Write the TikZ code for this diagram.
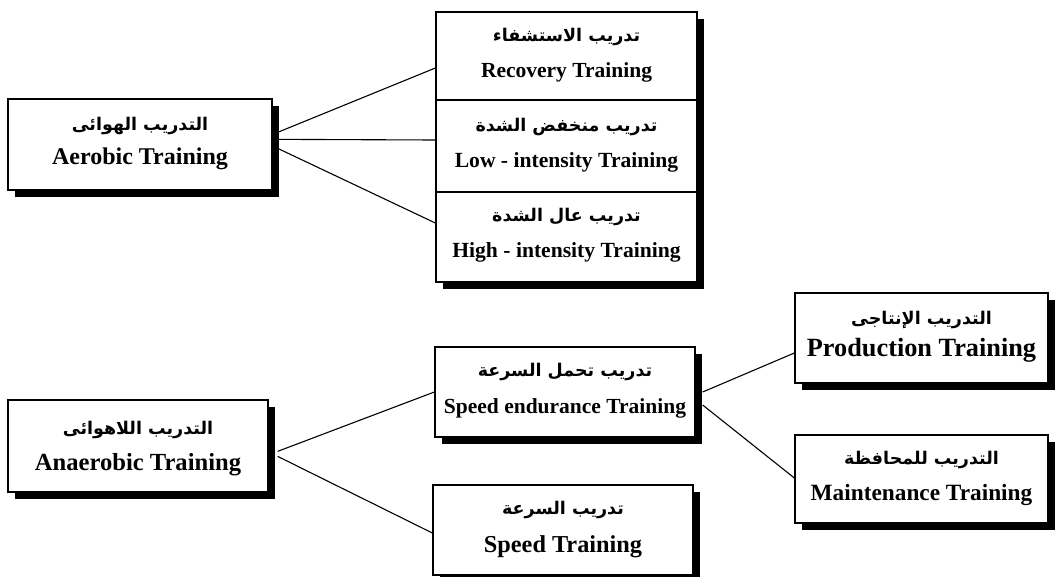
\documentclass[tikz,border=0pt]{standalone}
\usepackage{fontspec}
\setmainfont{Liberation Serif}
\newfontfamily\arfont[Script=Arabic]{DejaVu Sans}
\TeXXeTstate=1
\usetikzlibrary{shadows,calc}
\begin{document}
\begin{tikzpicture}[x=1pt,y=-1pt,
  box/.style={draw=black, line width=1.3pt, fill=white, inner sep=0pt},
  shad/.style={drop shadow={shadow xshift=6.5pt, shadow yshift=-6.5pt, fill=black, opacity=1}},
  artxt/.style={inner sep=0pt, font=\arfont\bfseries\fontsize{17.5}{20}\selectfont},
  entxt/.style={inner sep=0pt, font=\bfseries\fontsize{#1}{#1}\selectfont},
  conn/.style={draw=black, line width=1.1pt}
]
\useasboundingbox (0,0) rectangle (1057,576);
\clip (0,0) rectangle (1057,576);

% Aerobic
\node[box, shad, minimum width=264pt, minimum height=91pt] (aer) at (140,144.5) {};
\node[artxt] (aer-ar) at (140,126) {\beginR التدريب الهوائى\endR};
\node[entxt=24] (aer-en) at (140,159) {Aerobic Training};

% Column of three
\node[box, shad, minimum width=261pt, minimum height=270pt] (col) at (566.5,147) {};
\node[box, minimum width=261pt, minimum height=88pt] (rec) at (566.5,56) {};
\node[box, minimum width=261pt, minimum height=92pt] (low) at (566.5,146) {};
\node[box, minimum width=261pt, minimum height=90pt] (high) at (566.5,237) {};
\node[artxt] (rec-ar) at (566.5,37) {\beginR تدريب الاستشفاء\endR};
\node[entxt=21.5] (rec-en) at (566.5,72) {Recovery Training};
\node[artxt] (low-ar) at (566.5,127) {\beginR تدريب منخفض الشدة\endR};
\node[entxt=21.6] (low-en) at (566.5,162) {Low - intensity Training};
\node[artxt] (high-ar) at (566.5,217) {\beginR تدريب عال الشدة\endR};
\node[entxt=21.6] (high-en) at (566.5,252) {High - intensity Training};

% Anaerobic
\node[box, shad, minimum width=260pt, minimum height=92pt] (ana) at (138,446) {};
\node[artxt] (ana-ar) at (138,430) {\beginR التدريب اللاهوائى\endR};
\node[entxt=24.6] (ana-en) at (138,465) {Anaerobic Training};

% Speed endurance
\node[box, shad, minimum width=260pt, minimum height=90pt] (se) at (565,392) {};
\node[artxt] (se-ar) at (565,372) {\beginR تدريب تحمل السرعة\endR};
\node[entxt=21.5] (se-en) at (565,408) {Speed endurance Training};

% Speed
\node[box, shad, minimum width=260pt, minimum height=90pt] (sp) at (563,530) {};
\node[artxt] (sp-ar) at (563,510) {\beginR تدريب السرعة\endR};
\node[entxt=24.3] (sp-en) at (563,547) {Speed Training};

% Production
\node[box, shad, minimum width=253pt, minimum height=90pt] (pro) at (921.5,338) {};
\node[artxt] (pro-ar) at (921.5,320) {\beginR التدريب الإنتاجى\endR};
\node[entxt=26.3] (pro-en) at (921.5,350) {Production Training};

% Maintenance
\node[box, shad, minimum width=253pt, minimum height=88pt] (mai) at (921.5,479) {};
\node[artxt] (mai-ar) at (921.5,460) {\beginR التدريب للمحافظة\endR};
\node[entxt=23.3] (mai-en) at (921.5,495) {Maintenance Training};

% Connectors
\draw[conn] ($(aer.north east)+(5,34)$) -- ($(rec.west)+(0,12)$);
\draw[conn] ($(aer.north east)+(5,41)$) -- ($(low.west)+(0,-6)$);
\draw[conn] ($(aer.north east)+(5,50)$) -- ($(high.west)+(0,-14)$);
\draw[conn] ($(ana.north east)+(9,52)$) -- ($(se.west)+(0,0)$);
\draw[conn] ($(ana.north east)+(9,57)$) -- ($(sp.west)+(0,3)$);
\draw[conn] ($(se.east)+(7,0)$) -- ($(pro.west)+(0,15)$);
\draw[conn] ($(se.east)+(7,13)$) -- ($(mai.west)+(0,-1)$);
\end{tikzpicture}
\end{document}
